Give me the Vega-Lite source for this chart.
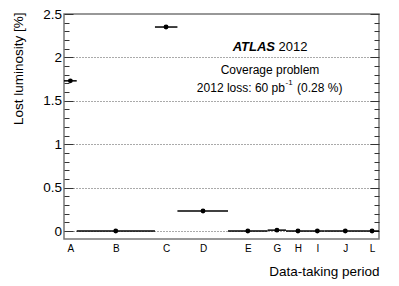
{
  "$schema": "https://vega.github.io/schema/vega-lite/v6.json",
  "width": 315,
  "height": 225,
  "autosize": {"type": "none"},
  "padding": {"left": 64, "top": 14, "right": 20, "bottom": 47},
  "background": "white",
  "config": {
    "view": {"stroke": "#777", "strokeWidth": 1.5},
    "font": "Liberation Sans",
    "text": {"font": "Liberation Sans", "color": "black"}
  },
  "data": {
    "values": [
      {"period": "A", "lo": 0.0, "x": 0.43, "hi": 0.86, "y": 1.73},
      {"period": "B", "lo": 0.86, "x": 3.5, "hi": 6.15, "y": 0.0},
      {"period": "C", "lo": 6.15, "x": 6.9, "hi": 7.67, "y": 2.35},
      {"period": "D", "lo": 7.67, "x": 9.4, "hi": 11.09, "y": 0.23},
      {"period": "E", "lo": 11.09, "x": 12.43, "hi": 13.77, "y": 0.0},
      {"period": "G", "lo": 13.77, "x": 14.4, "hi": 15.01, "y": 0.01},
      {"period": "H", "lo": 15.01, "x": 15.82, "hi": 16.63, "y": 0.0},
      {"period": "I", "lo": 16.63, "x": 17.13, "hi": 17.62, "y": 0.0},
      {"period": "J", "lo": 17.62, "x": 19.02, "hi": 20.42, "y": 0.0},
      {"period": "L", "lo": 20.42, "x": 20.83, "hi": 21.3, "y": 0.0}
    ]
  },
  "layer": [
    {
      "mark": {"type": "rule", "strokeWidth": 1.5, "color": "black"},
      "encoding": {
        "x": {"field": "lo", "type": "quantitative", "scale": {"domain": [0, 21.3], "nice": false, "zero": false}, "axis": null},
        "x2": {"field": "hi"},
        "y": {
          "field": "y", "type": "quantitative",
          "scale": {"domain": [-0.092, 2.5], "nice": false, "zero": false},
          "axis": {
            "orient": "right",
            "values": [0,0.1,0.2,0.3,0.4,0.5,0.6,0.7,0.8,0.9,1,1.1,1.2,1.3,1.4,1.5,1.6,1.7,1.8,1.9,2,2.1,2.2,2.3,2.4,2.5],
            "labels": false,
            "domain": false,
            "grid": false,
            "ticks": true,
            "tickColor": "#333",
            "tickWidth": 1,
            "tickSize": {"condition": {"test": "round(datum.value*10)%5==0", "value": -9}, "value": -5},
            "title": null
          }
        }
      }
    },
    {
      "mark": {"type": "circle", "size": 24, "color": "black", "opacity": 1},
      "encoding": {
        "x": {
          "field": "x", "type": "quantitative",
          "scale": {"domain": [0, 21.3], "nice": false, "zero": false},
          "axis": {
            "orient": "bottom",
            "values": [0.43, 3.5, 6.9, 9.4, 12.43, 14.4, 15.82, 17.13, 19.02, 20.83],
            "labelExpr": "datum.value < 1 ? 'A' : datum.value < 5 ? 'B' : datum.value < 8 ? 'C' : datum.value < 11 ? 'D' : datum.value < 13.5 ? 'E' : datum.value < 15 ? 'G' : datum.value < 16.5 ? 'H' : datum.value < 18 ? 'I' : datum.value < 20 ? 'J' : 'L'",
            "labelFontSize": 10,
            "labelColor": "black",
            "labelPadding": 4,
            "labelFlush": false,
            "labelOverlap": false,
            "ticks": false,
            "domain": false,
            "grid": false,
            "title": "Data-taking period",
            "titleFontSize": 13.5,
            "titleFontWeight": "normal",
            "titleColor": "black",
            "titleAlign": "right",
            "titleBaseline": "middle",
            "titleX": 315,
            "titleY": 32
          }
        },
        "y": {
          "field": "y", "type": "quantitative",
          "scale": {"domain": [-0.092, 2.5], "nice": false, "zero": false},
          "axis": {
            "orient": "left",
            "values": [0,0.1,0.2,0.3,0.4,0.5,0.6,0.7,0.8,0.9,1,1.1,1.2,1.3,1.4,1.5,1.6,1.7,1.8,1.9,2,2.1,2.2,2.3,2.4,2.5],
            "format": "~g",
            "labelExpr": "round(datum.value*10)%5==0 ? datum.label : ''",
            "labelFontSize": 13.5,
            "labelColor": "black",
            "labelPadding": 11.5,
            "labelFlush": false,
            "labelOverlap": false,
            "domain": false,
            "ticks": true,
            "tickColor": "#333",
            "tickWidth": 1,
            "tickSize": {"condition": {"test": "round(datum.value*10)%5==0", "value": -9}, "value": -5},
            "grid": true,
            "gridColor": "#555",
            "gridDash": [1, 2],
            "gridWidth": 1,
            "gridOpacity": {"condition": {"test": "round(datum.value*10)%5==0 && datum.value < 2.4", "value": 1}, "value": 0},
            "title": "Lost luminosity [%]",
            "titleFontSize": 13.5,
            "titleFontWeight": "normal",
            "titleColor": "black",
            "titleAngle": 270,
            "titleAlign": "right",
            "titleBaseline": "middle",
            "titleX": -46,
            "titleY": -2
          }
        }
      }
    },
    {
      "data": {"values": [{}]},
      "mark": {"type": "text", "align": "right", "baseline": "middle", "fontSize": 13, "fontWeight": "bold", "fontStyle": "italic"},
      "encoding": {
        "x": {"datum": 14.27, "type": "quantitative", "scale": {"domain": [0, 21.3], "nice": false, "zero": false}, "axis": null},
        "y": {"datum": 2.12, "type": "quantitative", "scale": {"domain": [-0.092, 2.5], "nice": false, "zero": false}, "axis": null},
        "text": {"value": "ATLAS"}
      }
    },
    {
      "data": {"values": [{}]},
      "mark": {"type": "text", "align": "left", "baseline": "middle", "fontSize": 13},
      "encoding": {
        "x": {"datum": 14.5, "type": "quantitative", "scale": {"domain": [0, 21.3], "nice": false, "zero": false}, "axis": null},
        "y": {"datum": 2.12, "type": "quantitative", "scale": {"domain": [-0.092, 2.5], "nice": false, "zero": false}, "axis": null},
        "text": {"value": "2012"}
      }
    },
    {
      "data": {"values": [{}]},
      "mark": {"type": "text", "align": "center", "baseline": "middle", "fontSize": 12},
      "encoding": {
        "x": {"datum": 13.93, "type": "quantitative", "scale": {"domain": [0, 21.3], "nice": false, "zero": false}, "axis": null},
        "y": {"datum": 1.855, "type": "quantitative", "scale": {"domain": [-0.092, 2.5], "nice": false, "zero": false}, "axis": null},
        "text": {"value": "Coverage problem"}
      }
    },
    {
      "data": {"values": [{}]},
      "mark": {"type": "text", "align": "right", "baseline": "middle", "fontSize": 12},
      "encoding": {
        "x": {"datum": 14.94, "type": "quantitative", "scale": {"domain": [0, 21.3], "nice": false, "zero": false}, "axis": null},
        "y": {"datum": 1.647, "type": "quantitative", "scale": {"domain": [-0.092, 2.5], "nice": false, "zero": false}, "axis": null},
        "text": {"value": "2012 loss: 60 pb"}
      }
    },
    {
      "data": {"values": [{}]},
      "mark": {"type": "text", "align": "left", "baseline": "middle", "fontSize": 8},
      "encoding": {
        "x": {"datum": 14.98, "type": "quantitative", "scale": {"domain": [0, 21.3], "nice": false, "zero": false}, "axis": null},
        "y": {"datum": 1.705, "type": "quantitative", "scale": {"domain": [-0.092, 2.5], "nice": false, "zero": false}, "axis": null},
        "text": {"value": "-1"}
      }
    },
    {
      "data": {"values": [{}]},
      "mark": {"type": "text", "align": "left", "baseline": "middle", "fontSize": 12},
      "encoding": {
        "x": {"datum": 15.76, "type": "quantitative", "scale": {"domain": [0, 21.3], "nice": false, "zero": false}, "axis": null},
        "y": {"datum": 1.647, "type": "quantitative", "scale": {"domain": [-0.092, 2.5], "nice": false, "zero": false}, "axis": null},
        "text": {"value": "(0.28 %)"}
      }
    }
  ],
  "resolve": {"axis": {"x": "independent", "y": "independent"}}
}
